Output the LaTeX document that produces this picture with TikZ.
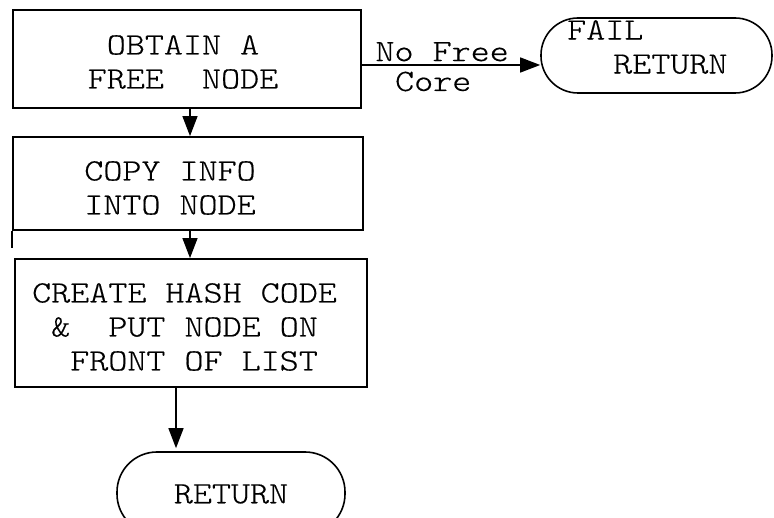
\documentclass[tikz,border=0pt]{standalone}
\usepackage{fontspec}
\newfontfamily\tw[FakeStretch=1.17,FakeBold=0.4]{Latin Modern Mono Light}
\usetikzlibrary{arrows.meta}
\tikzset{
  boxst/.style={draw, line width=1.8pt, inner sep=0pt},
  termst/.style={draw, line width=1.6pt, inner sep=0pt},
  txt/.style={font=\tw\fontsize{31}{34}\selectfont, inner sep=0pt},
  arr/.style={line width=1.4pt, -{Triangle[length=20pt,width=15pt]}},
}
\begin{document}
\begin{tikzpicture}[x=1pt,y=-1pt]
\useasboundingbox (0,0) rectangle (774,518);
% boxes
\node[boxst, minimum width=348pt, minimum height=98pt] (b1) at (187,59) {};
\node[txt, align=center] (t1) at (183,62) {OBTAIN A\\FREE~~NODE};
\node[boxst, minimum width=350pt, minimum height=93pt] (b2) at (188,183.5) {};
\node[txt, align=center] (t2) at (170,188) {COPY INFO\\INTO NODE};
\node[boxst, minimum width=352pt, minimum height=128pt] (b3) at (191,323) {};
\node[txt, align=left, anchor=west] (t3) at (32,327) {CREATE HASH CODE\\~\&~~PUT NODE ON\\~~FRONT OF LIST};
% terminals
\node[termst, rounded corners=37pt, minimum width=231pt, minimum height=75pt] (fail) at (656.5,55.5) {};
\node[txt, align=left, anchor=north west] (tf) at (567,20) {FAIL\\\hspace{46pt}RETURN};
\node[termst, rounded corners=40pt, minimum width=228pt, minimum height=82pt] (ret) at (231,493) {};
\node[txt] (tr) at (231,494) {RETURN};
% connectors
\coordinate (c1) at (190,0);
\coordinate (c3) at (176,0);
\draw[arr] (b1.south -| c1) -- (b2.north -| c1);
\draw[arr] (b2.south -| c1) -- (b3.north -| c1);
\draw[arr] (b3.south -| c3) -- ([yshift=3pt]ret.north -| c3);
\coordinate (c2) at (0,65);
\draw[arr] (b1.east |- c2) -- (fail.west |- c2)
  node[pos=0.45, above=3pt, txt] (lnf) {No Free}
  node[pos=0.40, below=6pt, txt] (lc) {Core};
% scanner overhang of box 2 left edge
\coordinate (o1) at (13,248);
\draw[line width=1.8pt] (b2.south west) -- (b2.south west |- o1);
\end{tikzpicture}
\end{document}
